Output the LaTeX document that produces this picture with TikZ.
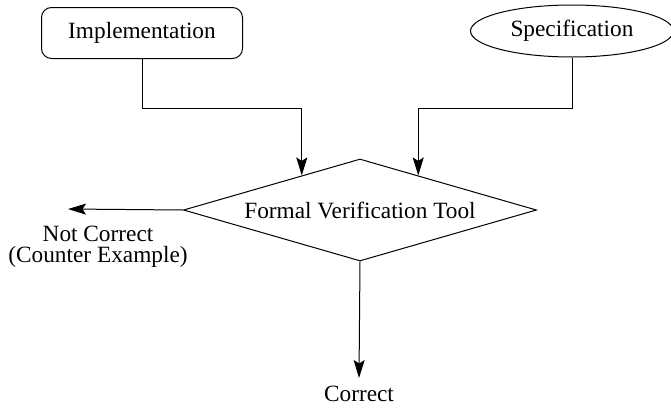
\documentclass[tikz,border=0pt]{standalone}
\usepackage{fontspec}
\setmainfont{Liberation Serif}
\usetikzlibrary{shapes.geometric,arrows.meta,calc}
\begin{document}
\begin{tikzpicture}[x=1pt,y=-1pt,
  every node/.style={font=\fontsize{23.3}{21.5}\selectfont},
  line/.style={line width=1pt},
  arr/.style={line, -{Stealth[length=18pt,width=11pt,inset=3.5pt]}},
  procbox/.style={draw, line width=1pt, rounded corners=10pt, minimum width=201pt, minimum height=51pt, inner sep=0pt},
  specbox/.style={draw, line width=1pt, ellipse, minimum width=203pt, minimum height=52pt, inner sep=0pt},
  decision/.style={draw, line width=1pt, diamond, aspect=3.46, minimum width=353pt, minimum height=102pt, inner sep=0pt},
  plain/.style={inner sep=0pt, align=center}]
  \useasboundingbox (0,0) rectangle (671,407);

  % inputs
  \node[procbox] (impl) at (142,33) {Implementation};
  \node[specbox] (spec) at (572,31) {Specification};

  % checker
  \node[decision] (fvt) at (360,210) {Formal Verification Tool};

  % points where the inputs reach the checker
  \coordinate (inL) at ($(fvt.west)!0.671!(fvt.north)$);
  \coordinate (inR) at ($(fvt.north)!0.329!(fvt.east)$);

  \draw[arr] (impl.south) |- ($(inL |- 0,108)$) -- (inL);
  \draw[arr] (spec.south) |- ($(inR |- 0,108)$) -- (inR);

  % outcomes
  \coordinate (bad) at (68,209);
  \coordinate (good) at (359,378);
  \draw[arr] (fvt.west) -- (bad);
  \draw[arr] (fvt.south) -- (good);

  \node[plain] (nc) at (98,247) {Not Correct\\(Counter Example)};
  \node[plain] (ok) at (359,394) {Correct};
\end{tikzpicture}
\end{document}
